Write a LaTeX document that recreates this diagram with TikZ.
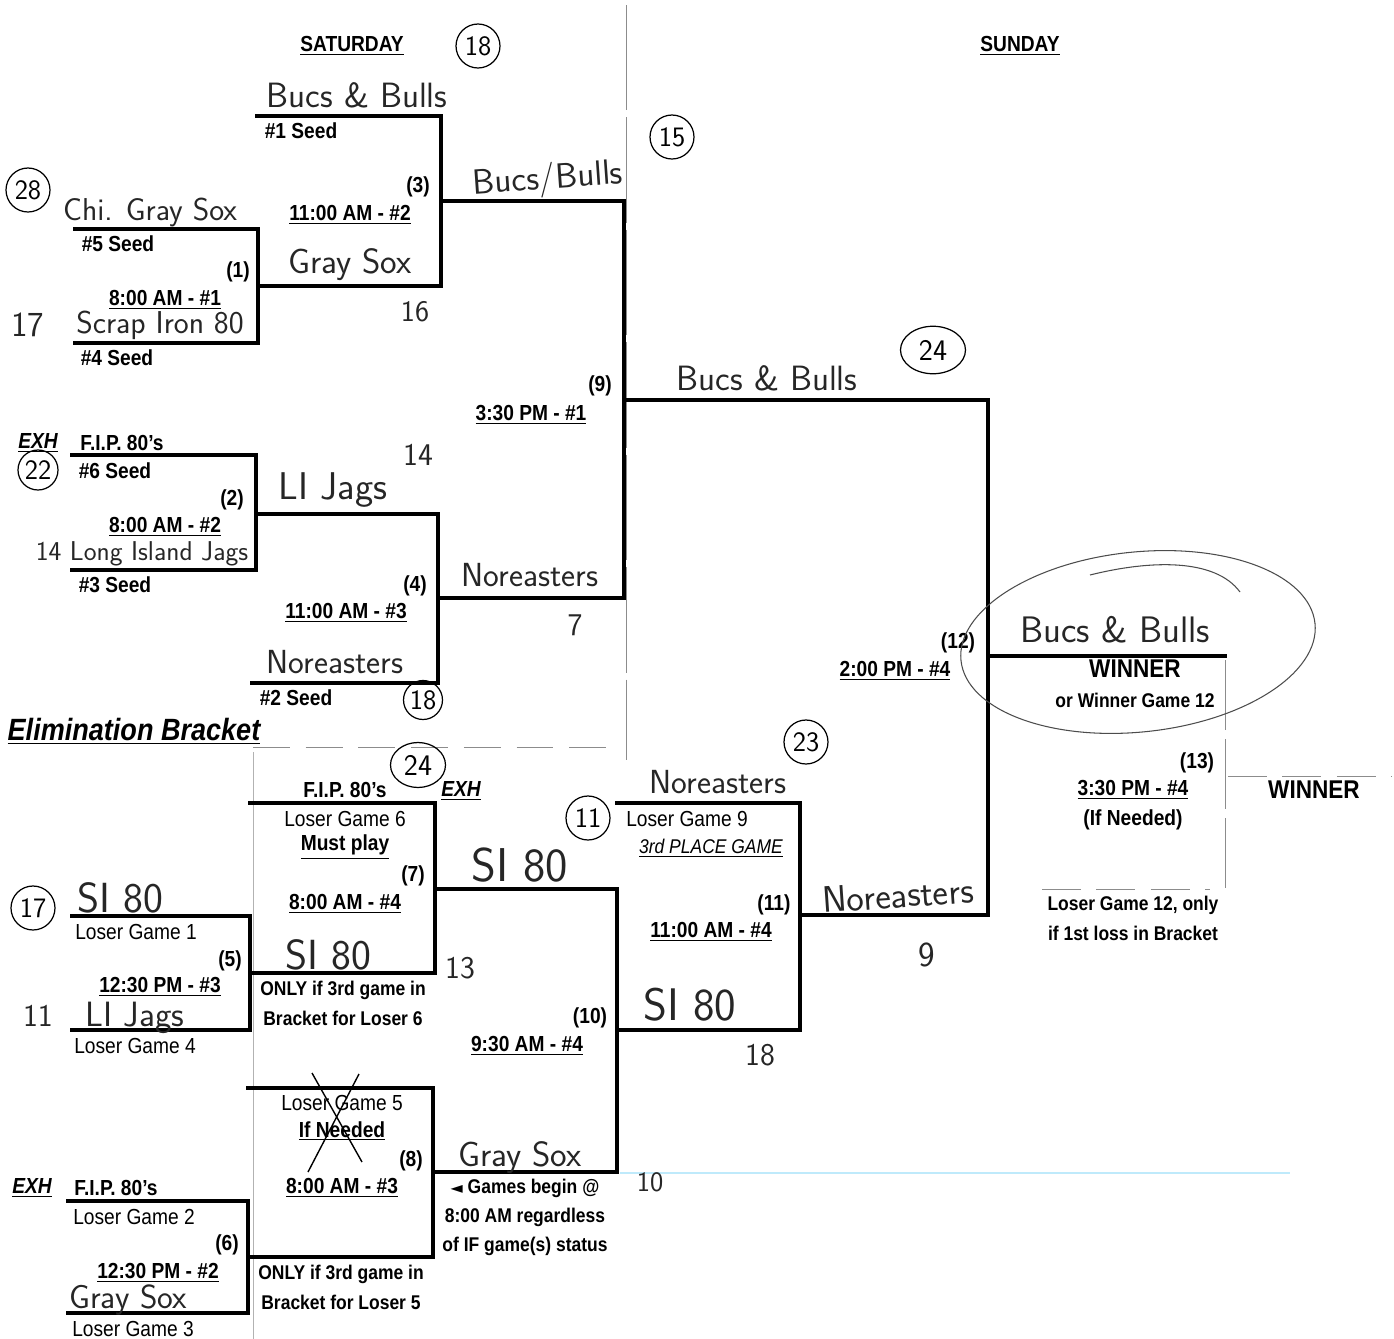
\documentclass[tikz,border=0pt]{standalone}
\usepackage{fontspec}
\setmainfont{Liberation Sans}[FakeStretch=0.88]
\newfontfamily\djv{DejaVu Sans}
\usetikzlibrary{shapes.geometric}
\begin{document}
\begin{tikzpicture}[x=0.02cm,y=-0.02cm,
 br/.style={line width=2.2pt, line join=miter, line cap=rect},
 guide/.style={line width=0.5pt, black!45},
 lb/.style={font=\fontsize{12.4}{14}\selectfont\bfseries, inner sep=0},
 lr/.style={font=\fontsize{12.4}{14}\selectfont, inner sep=0},
 nt/.style={font=\fontsize{11.3}{13}\selectfont\bfseries, inner sep=0},
 big/.style={font=\fontsize{14.6}{17}\selectfont\bfseries, inner sep=0},
 hw/.style={font=\sffamily\fontsize{#1}{#1}\selectfont, inner sep=0, text=black!85},
 cn/.style={circle, draw, line width=0.7pt, minimum size=0.88cm, inner sep=0, font=\sffamily\fontsize{16}{16}\selectfont},
 ce/.style={ellipse, draw, line width=0.7pt, minimum width=1.3cm, minimum height=0.95cm, inner sep=0, font=\sffamily\fontsize{17}{17}\selectfont},
 pen/.style={line width=0.6pt, black!70}]
\useasboundingbox (0,0) rectangle (1394,1339);

% ---------- guide lines ----------
\coordinate (v1a) at (626,5);   \coordinate (v1b) at (626,760);
\coordinate (hda) at (253,747); \coordinate (hdb) at (620,747);
\coordinate (v2a) at (253,752); \coordinate (v2b) at (253,1339);
\coordinate (v3a) at (1225,660);\coordinate (v3b) at (1225,890);
\coordinate (h3a) at (1228,776);\coordinate (h3b) at (1392,776);
\coordinate (h4a) at (1042,889);\coordinate (h4b) at (1210,889);
\coordinate (cya) at (620,1173); \coordinate (cyb) at (1290,1173);
\draw[guide, dash pattern=on 60pt off 4pt] (v1a) -- (v1b);
\draw[guide, dash pattern=on 21pt off 9pt] (hda) -- (hdb);
\draw[guide, black!30] (v2a) -- (v2b);
\draw[guide, dash pattern=on 40pt off 5pt] (v3a) -- (v3b);
\draw[guide, dash pattern=on 22pt off 9pt] (h3a) -- (h3b);
\draw[guide, dash pattern=on 22pt off 9pt] (h4a) -- (h4b);
\draw[line width=1.2pt, cyan!25] (cya) -- (cyb);

% ---------- upper bracket ----------
\coordinate (a1) at (257,116); \coordinate (a2) at (441,116); \coordinate (a3) at (441,286); \coordinate (a4) at (258,286);
\coordinate (b1) at (75,229); \coordinate (b2) at (258,229); \coordinate (b3) at (258,343); \coordinate (b4) at (75,343);
\coordinate (c1) at (441,201); \coordinate (c2) at (624,201); \coordinate (c3) at (624,598); \coordinate (c4) at (438,598);
\coordinate (d1) at (72,455); \coordinate (d2) at (256,455); \coordinate (d3) at (256,570); \coordinate (d4) at (72,570);
\coordinate (e1) at (256,514); \coordinate (e2) at (438,514); \coordinate (e3) at (438,683); \coordinate (e4) at (252,683);
\coordinate (f1) at (624,400); \coordinate (f2) at (988,400); \coordinate (f3) at (988,915); \coordinate (f4) at (800,915);
\coordinate (w1) at (988,656); \coordinate (w2) at (1225,656);
\draw[br] (a1) -- (a2) -- (a3) -- (a4);
\draw[br] (b1) -- (b2) -- (b3) -- (b4);
\draw[br] (b2) -- (a4);
\draw[br] (c1) -- (c2) -- (c3) -- (c4);
\draw[br] (d1) -- (d2) -- (d3) -- (d4);
\draw[br] (e1) -- (e2) -- (e3) -- (e4);
\draw[br] (f1) -- (f2) -- (f3) -- (f4);
\draw[br] (w1) -- (w2);

% ---------- lower bracket ----------
\coordinate (g1) at (250,803); \coordinate (g2) at (435,803); \coordinate (g3) at (435,973); \coordinate (g4) at (250,973);
\coordinate (k1) at (72,916); \coordinate (k2) at (250,916); \coordinate (k3) at (250,1030); \coordinate (k4) at (72,1030);
\coordinate (m1) at (435,889); \coordinate (m2) at (617,889); \coordinate (m3) at (617,1172); \coordinate (m4) at (433,1172);
\coordinate (n1) at (248,1088); \coordinate (n2) at (433,1088); \coordinate (n3) at (433,1257); \coordinate (n4) at (248,1257);
\coordinate (p1) at (68,1201); \coordinate (p2) at (248,1201); \coordinate (p3) at (248,1313); \coordinate (p4) at (68,1313);
\coordinate (q1) at (617,803); \coordinate (q2) at (800,803); \coordinate (q3) at (800,1030); \coordinate (q4) at (617,1030);
\draw[br] (g1) -- (g2) -- (g3) -- (g4);
\draw[br] (k1) -- (k2) -- (k3) -- (k4);
\draw[br] (k2) -- (g4);
\draw[br] (m1) -- (m2) -- (m3) -- (m4);
\draw[br] (n1) -- (n2) -- (n3) -- (n4);
\draw[br] (p1) -- (p2) -- (p3) -- (p4);
\draw[br] (q1) -- (q2) -- (q3) -- (q4);
\draw[br] (q2) |- (f4);

% ---------- upper texts ----------
\node[lb] (sat) at (352,46) {\underline{SATURDAY}};
\node[lb] (sun) at (1020,46) {\underline{SUNDAY}};
\node[cn] (c18a) at (478,46) {18};
\node[hw=20] (h1) at (357,95) {Bucs \& Bulls};
\node[lb] (s1) at (301,131) {\#1 Seed};
\node[lb] (n3l) at (418,187) {(3)};
\node[lb] (t3) at (350,215) {\underline{11:00 AM - \#2}};
\node[hw=20] (h2) at (350,265) {Gray Sox};
\node[hw=17] (h3) at (415,312) {16};
\node[hw=20, rotate=4] (h4) at (548,180) {Bucs/Bulls};
\node[cn] (c15) at (672,137) {15};
\node[cn] (c28) at (28,190) {28};
\node[hw=18] (h5) at (150,212) {Chi. Gray Sox};
\node[lb] (s5) at (118,244) {\#5 Seed};
\node[lb] (n1l) at (238,272) {(1)};
\node[lb] (t1) at (165,300) {\underline{8:00 AM - \#1}};
\node[hw=20] (h6) at (28,325) {17};
\node[hw=18] (h7) at (160,325) {Scrap Iron 80};
\node[lb] (s4) at (117,358) {\#4 Seed};
\node[lb] (n9l) at (600,386) {(9)};
\node[lb] (t9) at (531,415) {\underline{3:30 PM - \#1}};
\node[hw=20] (h8) at (767,378) {Bucs \& Bulls};
\node[ce] (c24a) at (933,350) {24};
\node[lb] (x1) at (38,443) {\underline{\itshape EXH}};
\node[lb] (fip1) at (122,443) {F.I.P. 80's};
\node[cn, minimum size=0.8cm] (c22) at (38,470) {22};
\node[lb] (s6) at (115,471) {\#6 Seed};
\node[hw=18] (h9) at (418,455) {14};
\node[lb] (n2l) at (232,500) {(2)};
\node[hw=22] (h10) at (333,490) {LI Jags};
\node[lb] (t2) at (165,527) {\underline{8:00 AM - \#2}};
\node[hw=15.5] (h11) at (142,554) {14 Long Island Jags};
\node[lb] (s3) at (115,585) {\#3 Seed};
\node[lb] (n4l) at (415,586) {(4)};
\node[hw=19] (h12) at (530,575) {Noreasters};
\node[hw=18] (h13) at (575,625) {7};
\node[lb] (t4) at (346,613) {\underline{11:00 AM - \#3}};
\node[hw=19] (h14) at (335,662) {Noreasters};
\node[lb] (s2) at (296,698) {\#2 Seed};
\node[cn, minimum size=0.78cm] (c18b) at (423,700) {18};
\node[font=\fontsize{17.5}{20}\selectfont\bfseries\itshape, inner sep=0] (elim) at (134,731) {\underline{Elimination Bracket}};
\node[lb] (n12l) at (958,643) {(12)};
\node[lb] (t12) at (895,671) {\underline{2:00 PM - \#4}};
\node[hw=21] (h15) at (1115,630) {Bucs \& Bulls};
\node[big] (win1) at (1135,669) {WINNER};
\node[nt] (ow) at (1135,700) {or Winner Game 12};
\draw[pen, rotate around={6:(1138,642)}] (1138,642) ellipse [x radius=3.56cm, y radius=1.8cm];
\draw[pen] (1090,575) .. controls (1150,560) and (1215,558) .. (1240,592);

% ---------- lower texts ----------
\node[ce, minimum width=1.1cm, minimum height=0.9cm] (c24b) at (418,765) {24};
\node[lb] (fip2) at (345,790) {F.I.P. 80's};
\node[lb] (x2) at (461,791) {\underline{\itshape EXH}};
\node[lr] (lg6) at (345,819) {Loser Game 6};
\node[lb] (mp) at (345,847) {\underline{Must play}};
\node[lb] (n7l) at (413,876) {(7)};
\node[lb] (t7) at (345,904) {\underline{8:00 AM - \#4}};
\node[hw=24] (h16) at (328,955) {SI 80};
\node[hw=18] (h17) at (460,968) {13};
\node[nt] (o6a) at (343,990) {ONLY if 3rd game in};
\node[nt] (o6b) at (343,1018) {Bracket for Loser 6};
\node[cn] (c17) at (33,908) {17};
\node[hw=24] (h18) at (120,898) {SI 80};
\node[lr] (lg1) at (136,932) {Loser Game 1};
\node[lb] (n5l) at (230,961) {(5)};
\node[lb] (t5) at (160,987) {\underline{12:30 PM - \#3}};
\node[hw=18] (h19) at (38,1016) {11};
\node[hw=20] (h20) at (135,1018) {LI Jags};
\node[lr] (lg4) at (135,1046) {Loser Game 4};
\node[cn] (c11) at (588,818) {11};
\node[hw=27] (h21) at (520,865) {SI 80};
\node[lb] (n10l) at (590,1018) {(10)};
\node[lb] (t10) at (527,1046) {\underline{9:30 AM - \#4}};
\node[hw=19] (h22) at (718,782) {Noreasters};
\node[cn] (c23) at (806,742) {23};
\node[lr] (lg9) at (687,819) {Loser Game 9};
\node[font=\fontsize{11.3}{13}\selectfont\itshape, inner sep=0] (tpg) at (711,848) {\underline{3rd PLACE GAME}};
\node[lb] (n11l) at (774,905) {(11)};
\node[lb] (t11) at (711,932) {\underline{11:00 AM - \#4}};
\node[hw=26] (h23) at (690,1005) {SI 80};
\node[hw=18] (h24) at (760,1055) {18};
\node[hw=21, rotate=4] (h25) at (898,895) {Noreasters};
\node[hw=20] (h26) at (927,955) {9};
\node[lr] (lg5) at (342,1103) {Loser Game 5};
\node[lb] (ifn) at (342,1131) {\underline{If Needed}};
\draw[line width=0.8pt] (312,1073) -- (362,1162);
\draw[line width=0.8pt] (359,1074) -- (308,1172);
\node[lb] (n8l) at (411,1161) {(8)};
\node[lb] (t8) at (342,1188) {\underline{8:00 AM - \#3}};
\node[hw=20] (h27) at (520,1158) {Gray Sox};
\node[hw=16] (h28) at (650,1182) {10};
\node[nt] (gb1) at (525,1188) {{\djv\fontsize{9}{11}\selectfont ◄} Games begin @};
\node[nt] (gb2) at (525,1217) {8:00 AM regardless};
\node[nt] (gb3) at (525,1246) {of IF game(s) status};
\node[lb] (x3) at (32,1188) {\underline{\itshape EXH}};
\node[lb] (fip3) at (116,1188) {F.I.P. 80's};
\node[lr] (lg2) at (134,1217) {Loser Game 2};
\node[lb] (n6l) at (227,1245) {(6)};
\node[lb] (t6) at (158,1273) {\underline{12:30 PM - \#2}};
\node[hw=19] (h29) at (128,1300) {Gray Sox};
\node[lr] (lg3) at (133,1329) {Loser Game 3};
\node[nt] (o5a) at (341,1274) {ONLY if 3rd game in};
\node[nt] (o5b) at (341,1302) {Bracket for Loser 5};
\node[lb] (n13l) at (1197,763) {(13)};
\node[lb] (t13) at (1133,790) {\underline{3:30 PM - \#4}};
\node[lb] (ifn2) at (1133,820) {(If Needed)};
\node[big] (win2) at (1314,790) {WINNER};
\node[nt] (l12a) at (1133,905) {Loser Game 12, only};
\node[nt] (l12b) at (1133,933) {if 1st loss in Bracket};
\end{tikzpicture}
\end{document}
